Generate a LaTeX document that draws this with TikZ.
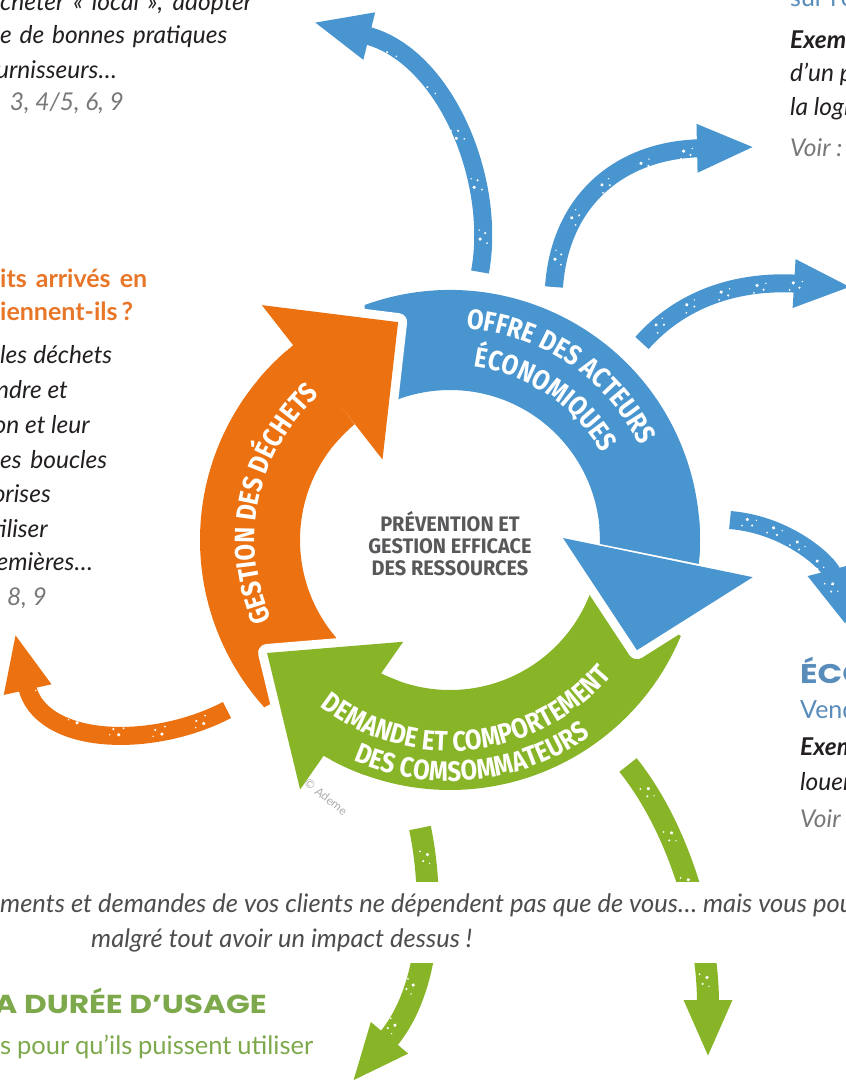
\documentclass[tikz,border=0pt]{standalone}
\usepackage{fontspec}
\usepackage{tikz}
\usetikzlibrary{arrows.meta,decorations.text,decorations.markings}
\setmainfont{Lato}
\newfontfamily\ringfont[FakeStretch=0.86]{Fira Sans}
\newfontfamily\corefont[FakeStretch=0.95]{Fira Sans}
\newfontfamily\headfont[FakeStretch=1.2]{Poppins}
\definecolor{colororange}{RGB}{236,114,17}
\definecolor{colorblue}  {RGB}{73 ,149,207}
\definecolor{colorgreen} {RGB}{136,180,40 }
\definecolor{colortext}  {RGB}{35 ,31 ,32 }
\definecolor{colorsee}   {RGB}{120,120,122}
\definecolor{colorcore}  {RGB}{88 ,88 ,90 }
\definecolor{headorange} {RGB}{232,118,40 }
\definecolor{headblue}   {RGB}{88 ,140,186}
\definecolor{headgreen}  {RGB}{125,168,75 }
\newcommand\ringlabel{\ringfont\bfseries\fontsize{28}{28}\selectfont\color{white}}

\begin{document}
\begin{tikzpicture}[
    x=1pt, y=1pt,
    body/.style={text=colortext,font={\fontsize{24.5}{28}\selectfont\itshape},inner sep=0pt},
    bold/.style={body,font={\fontsize{24.5}{28}\selectfont\bfseries\itshape}},
    see/.style={body,text=colorsee},
    orangehead/.style={text=headorange,font={\fontsize{25}{28}\selectfont\bfseries},inner sep=0pt},
    bluesub/.style={text=headblue,font={\fontsize{25}{28}\selectfont},inner sep=0pt},
    greensub/.style={text=headgreen,font={\fontsize{25.5}{28}\selectfont},inner sep=0pt},
    bluecap/.style={text=headblue,font={\headfont\bfseries\fontsize{27}{30}\selectfont},inner sep=0pt},
    greencap/.style={text=headgreen,font={\headfont\bfseries\fontsize{26}{30}\selectfont},inner sep=0pt},
    note/.style={text=colortext!80,font={\itshape\fontsize{25.5}{28}\selectfont},inner sep=0pt},
    core/.style={text=colorcore,font={\corefont\bfseries\fontsize{21}{22}\selectfont},align=center,inner sep=0pt},
    gap/.style={preaction={draw=white,line width=18pt,line join=round}},
    ringtext/.style={decorate,decoration={text along path,text align=center,text={|\ringlabel|#1}}},
    speck/.style={postaction={decorate,decoration={markings,
        mark=between positions 0.1 and 0.85 step 0.16 with {
        \fill[white] (0,3) circle (1.8pt) (6,-2) circle (1.2pt) (-4,-4) circle (1pt) (9,4) circle (0.8pt);}}}},
    spurt/.style={line width=18pt,-{Triangle[length=58pt,width=44pt]},speck},
]
\useasboundingbox (0,0) rectangle (846,-1082);
\clip (0,0) rectangle (846,-1082);

% outer arrows
\coordinate (bTa) at (480,-272);  \coordinate (bHa) at (313,-22);
\coordinate (bTb) at (554,-287);  \coordinate (bHb) at (755,-147);
\coordinate (bTc) at (642,-343);  \coordinate (bHc) at (852,-287);
\coordinate (bTd) at (730,-520);  \coordinate (bHd) at (846,-626);
\coordinate (oT)  at (227,-710);  \coordinate (oH)  at (15,-633);
\coordinate (gTa) at (420,-828);  \coordinate (gHa) at (352,-1082);
\coordinate (gTb) at (628,-765);  \coordinate (gHb) at (708,-1058);

\draw[spurt,colorblue] (bTa) .. controls (497,-180) and (445,-55) .. (bHa);
\draw[spurt,colorblue] (bTb) .. controls (560,-200) and (620,-150) .. (bHb);
\draw[spurt,colorblue] (bTc) .. controls (680,-300) and (735,-280) .. (bHc);
\draw[spurt,colorblue] (bTd) .. controls (790,-525) and (830,-565) .. (bHd);
\draw[spurt,colororange] (oT) .. controls (150,-750) and (40,-745) .. (oH);
\draw[spurt,colorgreen,line width=22pt] (gTa) .. controls (435,-900) and (430,-990) .. (gHa);
\draw[spurt,colorgreen,line width=22pt] (gTb) .. controls (680,-830) and (708,-930) .. (gHb);
\fill[white] (0,-882) rectangle (846,-963);

% the cycle
\begin{scope}[shift={(450,-540)}]
    % bodies
    \fill[colororange] (222:250) arc[start angle=222,end angle=127,radius=250]
        -- (127:150) arc[start angle=127,end angle=232,radius=150] -- cycle;
    \fill[colorblue] (110:250) arc[start angle=110,end angle=-6,radius=250]
        -- (-6:150) arc[start angle=-6,end angle=120,radius=150] -- cycle;
    \fill[colorgreen] (-22.6:250) arc[start angle=-22.6,end angle=-120,radius=250]
        -- (-120:150) arc[start angle=-120,end angle=-12,radius=150] -- cycle;
    % heads
    \fill[colororange,gap] (128.7:301) -- (103.4:224) -- (130:105) -- cycle;
    \fill[colorblue,gap] (-7:305) -- (-30.5:217) -- (1:113) -- cycle;
    \fill[colorgreen,gap] (-121:291) -- (-148.3:215) -- (-114.7:112) -- cycle;
    % necks
    \fill[colororange] (140:250) arc[start angle=140,end angle=128.5,radius=250]
        -- (129.5:150) arc[start angle=129.5,end angle=140,radius=150] -- cycle;
    \fill[colorblue] (5:250) arc[start angle=5,end angle=-5.5,radius=250]
        -- (-1.5:150) arc[start angle=-1.5,end angle=5,radius=150] -- cycle;
    \fill[colorgreen] (-110:250) arc[start angle=-110,end angle=-121,radius=250]
        -- (-118:150) arc[start angle=-118,end angle=-110,radius=150] -- cycle;
    % labels
    \path[ringtext={GESTION DES DÉCHETS}] (214:195) arc[start angle=214,end angle=122,radius=195];
    \path[ringtext={OFFRE DES ACTEURS}] (101:212) arc[start angle=101,end angle=11,radius=212];
    \path[ringtext={ÉCONOMIQUES}] (101:175) arc[start angle=101,end angle=11,radius=175];
    \path[ringtext={DEMANDE ET COMPORTEMENT}] (206:211) arc[start angle=206,end angle=346,radius=211];
    \path[ringtext={DES COMSOMMATEURS}] (206:241) arc[start angle=206,end angle=346,radius=241];
\end{scope}

\node[core] (centre) at (450,-544) {PRÉVENTION ET\\GESTION EFFICACE\\DES RESSOURCES};
\node[rotate=-38,text=colorsee!60,font={\fontsize{12}{12}\selectfont}] (copy) at (326,-797) {© Ademe};

% top left
\node[body,anchor=base west] (tl1) at (0,-10) {\makebox[252pt][s]{cheter « local », adopter}};
\node[body,anchor=base west] (tl2) at (0,-43) {\makebox[227pt][s]{e de bonnes pratiques}};
\node[body,anchor=base east] (tl3) at (117,-78) {fournisseurs…};
\node[see,anchor=base east]  (tl4) at (124,-110) {3, 4/5, 6, 9};

% top right
\node[bluesub,anchor=base west] (tr0) at (790,-6) {sur l’o};
\node[bold,anchor=base west] (tr1) at (790,-48) {Exemple};
\node[body,anchor=base west] (tr2) at (790,-81) {d’un pr};
\node[body,anchor=base west] (tr3) at (790,-115) {la logi};
\node[see,anchor=base west]  (tr4) at (790,-156) {Voir :};

% left
\node[orangehead,anchor=base west] (lf1) at (0,-287) {\makebox[147pt][s]{its arrivés en}};
\node[orangehead,anchor=base west] (lf2) at (0,-320) {\makebox[133pt][s]{iennent-ils ?}};
\node[body,anchor=base west] (lf3) at (0,-363) {\makebox[112pt][s]{les déchets}};
\node[body,anchor=base east] (lf4) at (68,-398) {prendre et};
\node[body,anchor=base east] (lf5) at (90,-433) {tion et leur};
\node[body,anchor=base west] (lf6) at (0,-468) {\makebox[107pt][s]{es boucles}};
\node[body,anchor=base east] (lf7) at (51,-502) {vorises};
\node[body,anchor=base east] (lf8) at (48,-537) {utiliser};
\node[body,anchor=base east] (lf9) at (93,-570) {premières…};
\node[see,anchor=base east]  (lf10) at (47,-605) {8, 9};

% right
\node[bluecap,anchor=base west] (rt1) at (800,-683) {ÉCO};
\node[bluesub,anchor=base west] (rt2) at (800,-718) {Vend};
\node[bold,anchor=base west] (rt3) at (800,-755) {Exem};
\node[body,anchor=base west] (rt4) at (800,-790) {louer};
\node[see,anchor=base west]  (rt5) at (800,-827) {Voir};

% bottom
\node[note,anchor=base west] (nt1) at (0,-912) {ments et demandes de vos clients ne dépendent pas que de vous… mais vous pouvez};
\node[note,anchor=base west] (nt2) at (91,-947) {malgré tout avoir un impact dessus !};
\node[greencap,anchor=base east] (bt1) at (267,-1013) {LA DURÉE D’USAGE};
\node[greensub,anchor=base west] (bt2) at (0,-1054) {\makebox[313pt][s]{s pour qu’ils puissent utiliser}};
\end{tikzpicture}
\end{document}
